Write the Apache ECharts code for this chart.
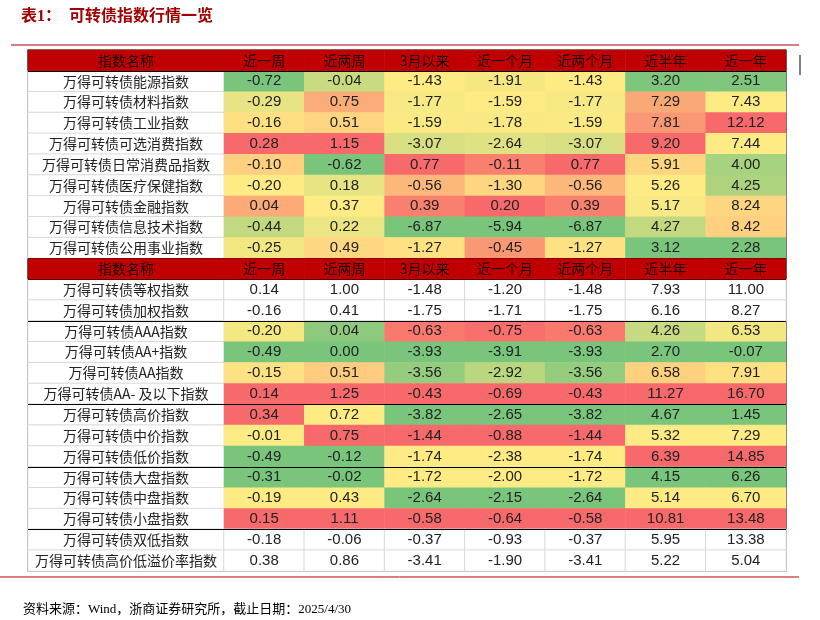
<!doctype html>
<html lang="zh">
<head>
<meta charset="UTF-8">
<title>可转债指数行情一览</title>
<script src="https://cdn.jsdelivr.net/npm/echarts@6/dist/echarts.min.js"></script>
<style>
  body { margin: 0; background: #fff; }
  #main { width: 820px; height: 620px; }
</style>
</head>
<body>
<div id="main"></div>
<script>
// 表头
var columns = ['近一周', '近两周', '3月以来', '近一个月', '近两个月', '近半年', '近一年'];
var headName = '指数名称';

// 上半部分：行业指数
var topNames = ['万得可转债能源指数', '万得可转债材料指数', '万得可转债工业指数', '万得可转债可选消费指数',
    '万得可转债日常消费品指数', '万得可转债医疗保健指数', '万得可转债金融指数', '万得可转债信息技术指数',
    '万得可转债公用事业指数'];
var topValues = [
    [-0.72, -0.04, -1.43, -1.91, -1.43, 3.20, 2.51],
    [-0.29, 0.75, -1.77, -1.59, -1.77, 7.29, 7.43],
    [-0.16, 0.51, -1.59, -1.78, -1.59, 7.81, 12.12],
    [0.28, 1.15, -3.07, -2.64, -3.07, 9.20, 7.44],
    [-0.10, -0.62, 0.77, -0.11, 0.77, 5.91, 4.00],
    [-0.20, 0.18, -0.56, -1.30, -0.56, 5.26, 4.25],
    [0.04, 0.37, 0.39, 0.20, 0.39, 5.17, 8.24],
    [-0.44, 0.22, -6.87, -5.94, -6.87, 4.27, 8.42],
    [-0.25, 0.49, -1.27, -0.45, -1.27, 3.12, 2.28]
];

// 下半部分：风格指数
var bottomNames = ['万得可转债等权指数', '万得可转债加权指数', '万得可转债AAA指数', '万得可转债AA+指数',
    '万得可转债AA指数', '万得可转债AA- 及以下指数', '万得可转债高价指数', '万得可转债中价指数',
    '万得可转债低价指数', '万得可转债大盘指数', '万得可转债中盘指数', '万得可转债小盘指数',
    '万得可转债双低指数', '万得可转债高价低溢价率指数'];
var bottomValues = [
    [0.14, 1.00, -1.48, -1.20, -1.48, 7.93, 11.00],
    [-0.16, 0.41, -1.75, -1.71, -1.75, 6.16, 8.27],
    [-0.20, 0.04, -0.63, -0.75, -0.63, 4.26, 6.53],
    [-0.49, 0.00, -3.93, -3.91, -3.93, 2.70, -0.07],
    [-0.15, 0.51, -3.56, -2.92, -3.56, 6.58, 7.91],
    [0.14, 1.25, -0.43, -0.69, -0.43, 11.27, 16.70],
    [0.34, 0.72, -3.82, -2.65, -3.82, 4.67, 1.45],
    [-0.01, 0.75, -1.44, -0.88, -1.44, 5.32, 7.29],
    [-0.49, -0.12, -1.74, -2.38, -1.74, 6.39, 14.85],
    [-0.31, -0.02, -1.72, -2.00, -1.72, 4.15, 6.26],
    [-0.19, 0.43, -2.64, -2.15, -2.64, 5.14, 6.70],
    [0.15, 1.11, -0.58, -0.64, -0.58, 10.81, 13.48],
    [-0.18, -0.06, -0.37, -0.93, -0.37, 5.95, 13.38],
    [0.38, 0.86, -3.41, -1.90, -3.41, 5.22, 5.04]
];
// 色阶分组 [起始行, 结束行)
var topGroups = [[0, 9]];
var bottomGroups = [[2, 6], [6, 9], [9, 12]];

var GREEN = [99, 190, 123], YELLOW = [255, 235, 132], RED = [248, 105, 107];
function mix(a, b, t) {
    return 'rgb(' + a.map(function (v, i) { return Math.round(v + (b[i] - v) * t); }).join(',') + ')';
}
function median(arr) {
    var s = arr.slice().sort(function (a, b) { return a - b; });
    var n = s.length;
    return n % 2 ? s[(n - 1) / 2] : (s[n / 2 - 1] + s[n / 2]) / 2;
}
function colorMap(values, groups) {
    var out = values.map(function (r) { return r.map(function () { return null; }); });
    groups.forEach(function (g) {
        for (var c = 0; c < columns.length; c++) {
            var col = [];
            for (var r = g[0]; r < g[1]; r++) col.push(values[r][c]);
            var mn = Math.min.apply(null, col), mx = Math.max.apply(null, col), md = median(col);
            for (var r = g[0]; r < g[1]; r++) {
                var v = values[r][c];
                out[r][c] = v <= md ? mix(GREEN, YELLOW, md === mn ? 1 : 0.15 + 0.85 * (v - mn) / (md - mn))
                                    : mix(YELLOW, RED, mx === md ? 0 : (v - md) / (mx - md));
            }
        }
    });
    return out;
}

var rows = [], nameData = [], valueData = [], headData = [], headNameData = [];
var HEAD = '#C00000';
var whiteStyle = { color: '#fff', borderColor: '#d9d9d9', borderWidth: 1 };
function addSection(names, values, groups) {
    var y = rows.length;
    rows.push(headName);
    headNameData.push({ value: [0, y, 0], name: headName });
    columns.forEach(function (c, i) {
        headData.push({ value: [i, y, 0], name: c });
    });
    var colors = colorMap(values, groups);
    names.forEach(function (n, r) {
        var yy = rows.length;
        rows.push(n);
        nameData.push({ value: [0, yy, 0], name: n, itemStyle: whiteStyle });
        values[r].forEach(function (v, i) {
            valueData.push({
                value: [i, yy, v], name: v.toFixed(2),
                itemStyle: colors[r][i] ? { color: colors[r][i], borderWidth: 0 } : whiteStyle
            });
        });
    });
}
addSection(topNames, topValues, topGroups);
addSection(bottomNames, bottomValues, bottomGroups);

// 粗分隔线所在行边界
var separators = [1, 10, 11, 13, 17, 20, 23];

var chart = echarts.init(document.getElementById('main'));
var TOP = 50, H = 521;
var yCat = { type: 'category', data: rows.map(function (r, i) { return i; }), inverse: true, show: false };
var nameLabel = { show: true, formatter: function (p) { return p.name; }, color: '#222', fontSize: 14,
                  fontFamily: 'Noto Sans CJK SC' };
var headLabel = { show: true, formatter: function (p) { return p.name; }, color: '#1a0000', fontSize: 14,
                  fontFamily: 'Noto Sans CJK SC' };
chart.setOption({
    animation: false,
    title: [
        { text: '表1：  可转债指数行情一览', left: 16, top: 4,
          textStyle: { color: '#A00000', fontSize: 16, fontWeight: 'bold', fontFamily: 'Liberation Serif, Noto Sans CJK SC' } },
        { text: '资料来源：Wind，浙商证券研究所，截止日期：2025/4/30', left: 18, top: 598,
          textStyle: { color: '#000', fontSize: 13, fontWeight: 'normal', fontFamily: 'Liberation Serif, Noto Sans CJK SC' } }
    ],
    grid: [
        { left: 28, top: TOP, width: 196, height: H },
        { left: 224, top: TOP, width: 562, height: H },
        { left: 28, top: TOP, width: 758, height: H, show: true, borderColor: '#000', borderWidth: 1.2, backgroundColor: 'transparent' }
    ],
    xAxis: [
        { type: 'category', data: [0], gridIndex: 0, show: false },
        { type: 'category', data: columns, gridIndex: 1, show: false },
        { type: 'value', min: 0, max: 1, gridIndex: 2, show: false }
    ],
    yAxis: [
        Object.assign({ gridIndex: 0 }, yCat),
        Object.assign({ gridIndex: 1 }, yCat),
        { type: 'value', min: 0, max: rows.length, inverse: true, gridIndex: 2, show: false }
    ],
    series: [
        { type: 'heatmap', xAxisIndex: 0, yAxisIndex: 0, data: nameData, label: nameLabel },
        { type: 'heatmap', xAxisIndex: 1, yAxisIndex: 1, data: valueData,
          label: Object.assign({}, nameLabel, { fontFamily: 'Liberation Sans Narrow, Liberation Sans, sans-serif', fontSize: 15 }) },
        { type: 'heatmap', xAxisIndex: 0, yAxisIndex: 0, data: headNameData, z: 5,
          itemStyle: { color: HEAD, borderWidth: 0 }, label: headLabel },
        { type: 'heatmap', xAxisIndex: 1, yAxisIndex: 1, data: headData, z: 5,
          itemStyle: { color: HEAD, borderWidth: 0 }, label: headLabel },
        { type: 'line', xAxisIndex: 2, yAxisIndex: 2, data: [], silent: true,
          markLine: { symbol: 'none', silent: true, label: { show: false },
                      lineStyle: { color: '#000', width: 1.2, type: 'solid' },
                      data: separators.map(function (s) { return { yAxis: s }; }) } }
    ],
    graphic: [
        { type: 'line', shape: { x1: 11, y1: 45, x2: 799, y2: 45 }, style: { stroke: '#B00000', lineWidth: 1 } },
        { type: 'line', shape: { x1: 0, y1: 577, x2: 799, y2: 577 }, style: { stroke: '#B00000', lineWidth: 1 } },
        { type: 'line', shape: { x1: 800, y1: 55, x2: 800, y2: 75 }, style: { stroke: '#000', lineWidth: 1 } }
    ]
});
</script>
</body>
</html>
